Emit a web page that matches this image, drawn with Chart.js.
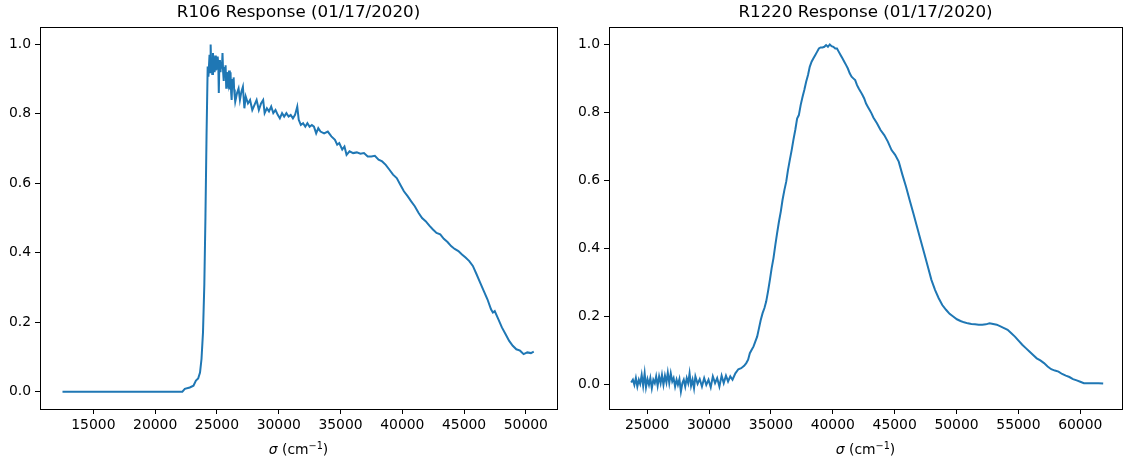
<!DOCTYPE html>
<html>
<head>
<meta charset="utf-8">
<script src="https://cdn.jsdelivr.net/npm/chart.js@4.4.1/dist/chart.umd.min.js"></script>
<style>
    html, body { margin: 0; padding: 0; background: #fff; }
    #wrap { position: relative; width: 1130px; height: 465px; }
    .panel { position: absolute; top: 0; width: 565px; height: 465px; }
</style>
</head>
<body>
<div id="wrap">
    <div class="panel" style="left:0"><canvas id="r106Chart" width="565" height="465"></canvas></div>
    <div class="panel" style="left:565px"><canvas id="r1220Chart" width="565" height="465"></canvas></div>
</div>
<script>
// R106 response curve
const r106Sigma = [12500, 22200, 22400, 22800, 23100, 23300, 23480, 23630, 23750, 23870,
    23980, 24070, 24160, 24250, 24310,
    24400, 24450, 24490, 24540, 24590, 24620, 24680, 24720, 24770, 24810,
    24860, 24910, 24960, 25010, 25060, 25110, 25150, 25190, 25240, 25290,
    25340, 25400, 25450, 25500, 25550, 25600, 25650, 25700, 25750, 25800,
    25860, 25920, 25980, 26040, 26100, 26150, 26190, 26240, 26300, 26350,
    26390, 26440, 26480,
    26620, 26750, 26860,
    26980, 27100, 27220, 27330, 27510, 27680, 27860, 28040, 28210, 28390,
    28570, 28740, 28860, 29040, 29210, 29390, 29560, 29740, 29920, 30090,
    30270, 30440, 30620, 30800, 30970, 31150, 31320, 31500, 31620, 31790,
    31970, 32150, 32320, 32500, 32680, 32850, 33030, 33200, 33380, 33670,
    33970, 34260, 34550, 34730, 34900, 35140, 35320, 35490, 35730, 36020,
    36320, 36610, 36900, 37200, 37490, 37780, 38080, 38370, 38660, 38960,
    39250, 39550, 39840, 40130, 40430, 40720, 41010, 41310, 41600, 41890,
    42190, 42480, 42770, 43070, 43360, 43660, 43950, 44240, 44540, 44830,
    45120, 45420, 45710, 46010, 46300, 46590, 46890, 47180, 47330, 47480,
    47770, 48060, 48350, 48650, 48940, 49230, 49530, 49820, 50120, 50410,
    50640];
const r106Response = [0, 0, 0.008, 0.012, 0.017, 0.032, 0.038, 0.055, 0.094, 0.17,
    0.31, 0.505, 0.744, 0.936, 0.907,
    0.97, 0.92, 1.0, 0.93, 0.95, 0.915, 0.975, 0.93, 0.96, 0.92,
    0.968, 0.925, 0.95, 0.93, 0.965, 0.94, 0.86, 0.93, 0.955, 0.92,
    0.95, 0.93, 0.975, 0.92, 0.895, 0.935, 0.91, 0.94, 0.875, 0.92,
    0.905, 0.89, 0.925, 0.87, 0.92, 0.86, 0.84, 0.9, 0.88, 0.905,
    0.87, 0.85, 0.835,
    0.859, 0.873, 0.84,
    0.864, 0.878, 0.816, 0.85, 0.83, 0.84, 0.811, 0.826, 0.84, 0.811,
    0.83, 0.84, 0.802, 0.816, 0.807, 0.821, 0.802, 0.811, 0.797, 0.787,
    0.802, 0.792, 0.802, 0.792, 0.797, 0.787, 0.797, 0.821, 0.783, 0.768,
    0.773, 0.763, 0.773, 0.763, 0.768, 0.763, 0.744, 0.759, 0.749, 0.744,
    0.749, 0.735, 0.725, 0.711, 0.716, 0.697, 0.706, 0.682, 0.692, 0.687,
    0.689, 0.685, 0.687, 0.677, 0.677, 0.679, 0.668, 0.663, 0.653, 0.639,
    0.625, 0.615, 0.596, 0.577, 0.563, 0.548, 0.534, 0.515, 0.5, 0.491,
    0.478, 0.467, 0.457, 0.453, 0.44, 0.431, 0.419, 0.411, 0.405, 0.395,
    0.386, 0.376, 0.362, 0.338, 0.314, 0.29, 0.266, 0.237, 0.228, 0.232,
    0.209, 0.185, 0.166, 0.146, 0.132, 0.122, 0.118, 0.108, 0.113, 0.111,
    0.115];

// R1220 response curve
const r1220Sigma = [23710, 23850, 23970, 24090, 24210, 24330, 24440, 24560, 24680, 24800,
    24910, 25030, 25150, 25260, 25380, 25500, 25620, 25730, 25850, 25970,
    26090, 26200, 26320, 26440, 26560, 26670, 26790, 26910, 27030, 27140,
    27260, 27380, 27490, 27610, 27730, 27850, 27960, 28080, 28200, 28320,
    28430, 28550, 28670, 28790, 28900, 29080, 29250, 29430, 29610, 29780,
    29960, 30140, 30310, 30490, 30660, 30840, 31020, 31190, 31370, 31540,
    31720, 31900, 32130, 32370, 32600, 32840, 33010, 33160, 33300, 33450,
    33600, 33740, 33890, 34040, 34180, 34330, 34480, 34620, 34770, 34920,
    35060, 35210, 35360, 35500, 35650, 35800, 35940, 36090, 36240, 36380,
    36530, 36680, 36820, 36970, 37120, 37260, 37410, 37560, 37700, 37850,
    38000, 38140, 38290, 38440, 38580, 38730, 38880, 39020, 39170, 39320,
    39460, 39610, 39760, 39900, 40050, 40200, 40340, 40490, 40640, 40780,
    40930, 41080, 41220, 41370, 41520, 41660, 41810, 41960, 42100, 42250,
    42400, 42540, 42690, 42840, 42980, 43130, 43280, 43570, 43860, 44160,
    44450, 44750, 45040, 45330, 45630, 45920, 46210, 46510, 46800, 47090,
    47390, 47680, 47970, 48270, 48560, 48850, 49150, 49440, 49730, 50030,
    50320, 50610, 50910, 51200, 51490, 51790, 52080, 52370, 52670, 52960,
    53250, 53550, 53840, 54130, 54430, 54720, 55010, 55310, 55600, 55890,
    56190, 56480, 56770, 57070, 57360, 57650, 57950, 58240, 58530, 58830,
    59120, 59410, 59710, 60000, 60290, 60590, 60880, 61170, 61470, 61850];
const r1220Response = [0.005, 0.013, -0.002, 0.018, -0.007, 0.013, 0.001, 0.027, -0.005, 0.032,
    -0.009, 0.015, -0.002, 0.018, -0.012, 0.013, 0.003, 0.023, -0.005, 0.023,
    0.003, 0.027, -0.002, 0.025, 0.005, 0.034, 0.003, 0.032, 0.008, 0.018,
    -0.007, 0.013, -0.002, 0.015, -0.022, 0.003, 0.013, -0.007, 0.018, 0.003,
    0.032, -0.005, 0.013, -0.012, 0.023, 0.001, 0.015, -0.007, 0.018, -0.002,
    0.013, -0.009, 0.023, 0.003, 0.018, -0.007, 0.025, 0.003, 0.025, 0.008,
    0.023, 0.013, 0.032, 0.044, 0.047, 0.054, 0.062, 0.072, 0.091, 0.101,
    0.111, 0.125, 0.14, 0.165, 0.189, 0.209, 0.224, 0.243, 0.273, 0.307,
    0.341, 0.371, 0.41, 0.444, 0.478, 0.508, 0.542, 0.571, 0.596, 0.63,
    0.66, 0.689, 0.719, 0.748, 0.782, 0.792, 0.822, 0.846, 0.866, 0.89,
    0.91, 0.934, 0.949, 0.959, 0.968, 0.978, 0.988, 0.991, 0.991, 0.993,
    0.998, 0.993, 1.0, 0.995, 0.993, 0.988, 0.988, 0.978, 0.968, 0.959,
    0.949, 0.939, 0.929, 0.915, 0.905, 0.9, 0.895, 0.88, 0.87, 0.861,
    0.851, 0.841, 0.826, 0.816, 0.807, 0.797, 0.785, 0.768, 0.748, 0.733,
    0.714, 0.689, 0.675, 0.655, 0.616, 0.581, 0.542, 0.503, 0.464, 0.425,
    0.385, 0.346, 0.307, 0.277, 0.253, 0.233, 0.219, 0.207, 0.199, 0.191,
    0.186, 0.182, 0.179, 0.177, 0.176, 0.175, 0.175, 0.176, 0.179, 0.177,
    0.175, 0.17, 0.165, 0.16, 0.15, 0.14, 0.128, 0.116, 0.106, 0.096,
    0.086, 0.076, 0.07, 0.062, 0.052, 0.044, 0.04, 0.037, 0.03, 0.025,
    0.021, 0.015, 0.011, 0.007, 0.003, 0.003, 0.003, 0.003, 0.003, 0.002];

// tick labels
const yTicks = [0.0, 0.2, 0.4, 0.6, 0.8, 1.0];
const r106XTicks = [15000, 20000, 25000, 30000, 35000, 40000, 45000, 50000];
const r1220XTicks = [25000, 30000, 35000, 40000, 45000, 50000, 55000, 60000];

const FONT = '"DejaVu Sans", sans-serif';
const LINE_COLOR = "#1f77b4";

// box around the plot area, like matplotlib spines
const framePlugin = {
    id: "frame",
    afterDraw(chart) {
        const { ctx, chartArea: a } = chart;
        ctx.save();
        ctx.strokeStyle = "#000";
        ctx.lineWidth = 1;
        ctx.strokeRect(Math.round(a.left) + 0.5, Math.round(a.top) + 0.5,
            Math.round(a.right - a.left), Math.round(a.bottom - a.top));
        ctx.restore();
    }
};

// x label with italic sigma and superscript
const xLabelPlugin = {
    id: "xlabel",
    afterDraw(chart) {
        const { ctx, chartArea: a } = chart;
        const parts = [
            { t: "σ", f: "italic 13.9px " + FONT, dy: 0 },
            { t: " (cm", f: "13.9px " + FONT, dy: 0 },
            { t: "−1", f: "9.7px " + FONT, dy: -5 },
            { t: ")", f: "13.9px " + FONT, dy: 0 }
        ];
        ctx.save();
        let total = 0;
        parts.forEach(p => { ctx.font = p.f; p.w = ctx.measureText(p.t).width; total += p.w; });
        let x = (a.left + a.right) / 2 - total / 2;
        const y = 454;
        ctx.fillStyle = "#000";
        ctx.textBaseline = "alphabetic";
        ctx.textAlign = "left";
        parts.forEach(p => { ctx.font = p.f; ctx.fillText(p.t, x, y + p.dy); x += p.w; });
        ctx.restore();
    }
};

function makeChart(id, title, sigma, response, xTicks, xMin, xMax, yMin, yMax, yWidth) {
    const ctx = document.getElementById(id);
    return new Chart(ctx, {
        type: "scatter",
        data: {
            datasets: [{
                data: sigma.map((s, i) => ({ x: s, y: response[i] })),
                showLine: true,
                borderColor: LINE_COLOR,
                borderWidth: 2,
                pointRadius: 0,
                tension: 0
            }]
        },
        options: {
            responsive: false,
            animation: false,
            devicePixelRatio: 1,
            layout: { padding: { left: 0, right: 8, top: 0, bottom: 0 } },
            plugins: {
                legend: { display: false },
                tooltip: { enabled: false },
                title: {
                    display: true,
                    text: title,
                    fullSize: false,
                    color: "#000",
                    font: { family: FONT, size: 16.7, weight: "normal", lineHeight: 1.2 },
                    padding: { top: 3, bottom: 4 }
                }
            },
            scales: {
                x: {
                    type: "linear",
                    min: xMin,
                    max: xMax,
                    afterBuildTicks: scale => { scale.ticks = xTicks.map(v => ({ value: v })); },
                    afterFit: scale => { scale.height = 56; },
                    grid: { drawOnChartArea: false, drawTicks: true, tickLength: 5, color: "#000" },
                    border: { display: false },
                    ticks: {
                        autoSkip: false,
                        maxRotation: 0,
                        padding: 3,
                        color: "#000",
                        font: { family: FONT, size: 13.9 },
                        callback: v => String(v)
                    }
                },
                y: {
                    type: "linear",
                    min: yMin,
                    max: yMax,
                    afterBuildTicks: scale => { scale.ticks = yTicks.map(v => ({ value: v })); },
                    afterFit: scale => { scale.width = yWidth; },
                    grid: { drawOnChartArea: false, drawTicks: true, tickLength: 5, color: "#000" },
                    border: { display: false },
                    ticks: {
                        padding: 4,
                        color: "#000",
                        font: { family: FONT, size: 13.9 },
                        callback: v => v.toFixed(1)
                    }
                }
            }
        },
        plugins: [framePlugin, xLabelPlugin]
    });
}

makeChart("r106Chart", "R106 Response (01/17/2020)", r106Sigma, r106Response,
    r106XTicks, 10680, 52520, -0.05, 1.05, 40);
makeChart("r1220Chart", "R1220 Response (01/17/2020)", r1220Sigma, r1220Response,
    r1220XTicks, 21920, 63370, -0.0731, 1.0511, 44);
</script>
</body>
</html>
